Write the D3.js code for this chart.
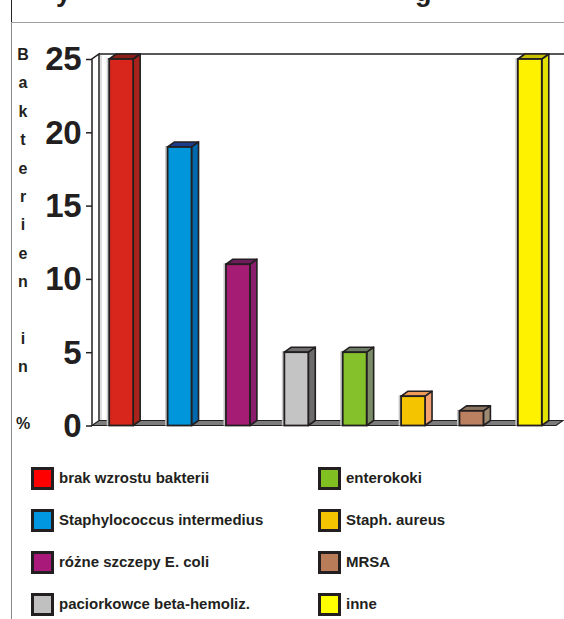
<!DOCTYPE html>
<html>
<head>
<meta charset="utf-8">
<script src="https://cdn.jsdelivr.net/npm/d3@7"></script>
<style>
  html, body { margin: 0; padding: 0; background: #fff; }
  svg { display: block; }
  text { font-family: "Liberation Sans", Arial, sans-serif; font-weight: bold; fill: #231f20; }
</style>
</head>
<body>
<script>
// Bacterial findings, share of samples in percent
const categories = [
  "brak wzrostu bakterii",
  "Staphylococcus intermedius",
  "różne szczepy E. coli",
  "paciorkowce beta-hemoliz.",
  "enterokoki",
  "Staph. aureus",
  "MRSA",
  "inne"
];
const values = [25, 19, 11, 5, 5, 2, 1, 25];
const yTicks = [0, 5, 10, 15, 20, 25];
const yTitle = "Bakterien in %";

// Palette: front face, right side, top face and legend swatch per category
const frontColors  = ["#d9261c", "#0096dc", "#a51c74", "#c4c4c4", "#84c12a", "#f5c400", "#bb8060", "#fff200"];
const sideColors   = ["#a8231a", "#0068ac", "#8a1e6c", "#6c6c6c", "#7a8c68", "#f2a070", "#9c8a72", "#e2e200"];
const topColors    = ["#8c1e18", "#1e3c8c", "#6e1c5c", "#6e6e6e", "#6e7c66", "#f09a5a", "#8a7460", "#c8c000"];
const legendColors = ["#ff0000", "#0096e0", "#a8197a", "#c0c0c0", "#80c020", "#f5c400", "#b87c58", "#ffff00"];

const W = 564, H = 619;
const ink = "#231f20";
const dx = 7, dy = -5;           // depth offset of the 3D projection

const svg = d3.select("body").append("svg")
  .attr("width", W).attr("height", H);

// Outer frame: left rule and the rule under the heading
svg.append("line").attr("x1", 11.5).attr("x2", 11.5).attr("y1", 0).attr("y2", 22)
  .attr("stroke", "#222").attr("stroke-width", 1);
svg.append("line").attr("x1", 11.5).attr("x2", 11.5).attr("y1", 22).attr("y2", H)
  .attr("stroke", "#888").attr("stroke-width", 1);
svg.append("line").attr("x1", 11).attr("x2", W).attr("y1", 22.5).attr("y2", 22.5)
  .attr("stroke", "#a0a0a0").attr("stroke-width", 1.2);

// Heading line sits above the top edge; only its descenders reach into view
svg.append("text").attr("x", 56).attr("y", 0.5).attr("font-size", 27).text("y");
svg.append("text").attr("x", 415).attr("y", 0.5).attr("font-size", 27).text("g");

// Scales
const x = d3.scaleBand()
  .domain(categories)
  .range([92, 559])
  .paddingInner(0.59)
  .paddingOuter(0.295);

const y = d3.scaleLinear()
  .domain([0, 25])
  .range([425.5, 59]);

const x0 = 92, xEnd = 556;
const yTop = y(25), yBase = y(0);

// Back wall top edge
svg.append("line")
  .attr("x1", x0 + dx).attr("x2", W)
  .attr("y1", yTop + dy).attr("y2", yTop + dy)
  .attr("stroke", ink).attr("stroke-width", 1.6);

// Left side wall
svg.append("path")
  .attr("d", d3.line()([[x0, yBase], [x0, yTop], [x0 + dx, yTop + dy], [x0 + dx, yBase + dy]]))
  .attr("fill", "#fff").attr("stroke", ink).attr("stroke-width", 1.5);
svg.append("line")
  .attr("x1", x0 + dx + 2).attr("x2", x0 + dx + 2)
  .attr("y1", yTop + dy + 1).attr("y2", yBase + dy)
  .attr("stroke", "#c8c8c8").attr("stroke-width", 1.2);

// Floor
svg.append("path")
  .attr("d", d3.line()([[x0, yBase], [x0 + dx, yBase + dy], [xEnd + dx, yBase + dy], [xEnd, yBase]]) + "Z")
  .attr("fill", "#7c7c7c").attr("stroke", ink).attr("stroke-width", 1.2);

// Axis: ticks and labels
const yAxis = d3.axisLeft(y).tickValues(yTicks).tickSize(6).tickPadding(6);
const axisG = svg.append("g").attr("transform", `translate(${x0},0)`).call(yAxis);
axisG.select(".domain").remove();
axisG.selectAll(".tick line").attr("stroke", ink).attr("stroke-width", 1.5);
axisG.selectAll(".tick text")
  .attr("font-size", 33)
  .attr("font-family", "'Liberation Sans', Arial, sans-serif")
  .attr("font-weight", "bold")
  .attr("fill", ink)
  .attr("letter-spacing", -0.5)
  .attr("dy", "0.33em")
  .attr("x", -11);

// Axis title: one letter per line
const titleChars = Array.from(yTitle);
svg.append("g").selectAll("text")
  .data(titleChars)
  .join("text")
  .attr("x", 23)
  .attr("y", (d, i) => 60 + i * 28.4)
  .attr("text-anchor", "middle")
  .attr("font-size", 16)
  .text(d => d);

// Bars
const bars = svg.append("g").selectAll("g")
  .data(values.map((v, i) => ({ v, i, c: categories[i] })))
  .join("g");

const bw = x.bandwidth();

// faint drop shadow along the left edge
bars.append("rect")
  .attr("x", d => x(d.c) - 2.5)
  .attr("y", d => y(d.v) - 1)
  .attr("width", bw)
  .attr("height", d => yBase - y(d.v) + 1)
  .attr("fill", "#c8c8c8");

bars.append("path")
  .attr("d", d => {
    const l = x(d.c) + bw, t = y(d.v);
    return d3.line()([[l, t], [l + dx, t + dy], [l + dx, yBase + dy], [l, yBase]]) + "Z";
  })
  .attr("fill", d => sideColors[d.i])
  .attr("stroke", ink).attr("stroke-width", 1.6).attr("stroke-linejoin", "round");

bars.append("path")
  .attr("d", d => {
    const l = x(d.c), t = y(d.v);
    return d3.line()([[l, t], [l + dx, t + dy], [l + bw + dx, t + dy], [l + bw, t]]) + "Z";
  })
  .attr("fill", d => topColors[d.i])
  .attr("stroke", ink).attr("stroke-width", 1.6).attr("stroke-linejoin", "round");

bars.append("rect")
  .attr("x", d => x(d.c))
  .attr("y", d => y(d.v))
  .attr("width", bw)
  .attr("height", d => yBase - y(d.v))
  .attr("fill", d => frontColors[d.i])
  .attr("stroke", ink).attr("stroke-width", 1.8);

// Legend: two columns of four entries
const legend = svg.append("g").selectAll("g")
  .data(categories.map((c, i) => ({ c, i })))
  .join("g")
  .attr("transform", d => {
    const col = Math.floor(d.i / 4), row = d.i % 4;
    return `translate(${col ? 318 : 31},${478 + row * 42})`;
  });

legend.append("rect")
  .attr("x", 1.5).attr("y", -9.5)
  .attr("width", 20).attr("height", 20)
  .attr("fill", d => legendColors[d.i])
  .attr("stroke", ink).attr("stroke-width", 3);

legend.append("text")
  .attr("x", 28)
  .attr("y", 0)
  .attr("dy", "0.36em")
  .attr("font-size", 15)
  .text(d => d.c);
</script>
</body>
</html>
